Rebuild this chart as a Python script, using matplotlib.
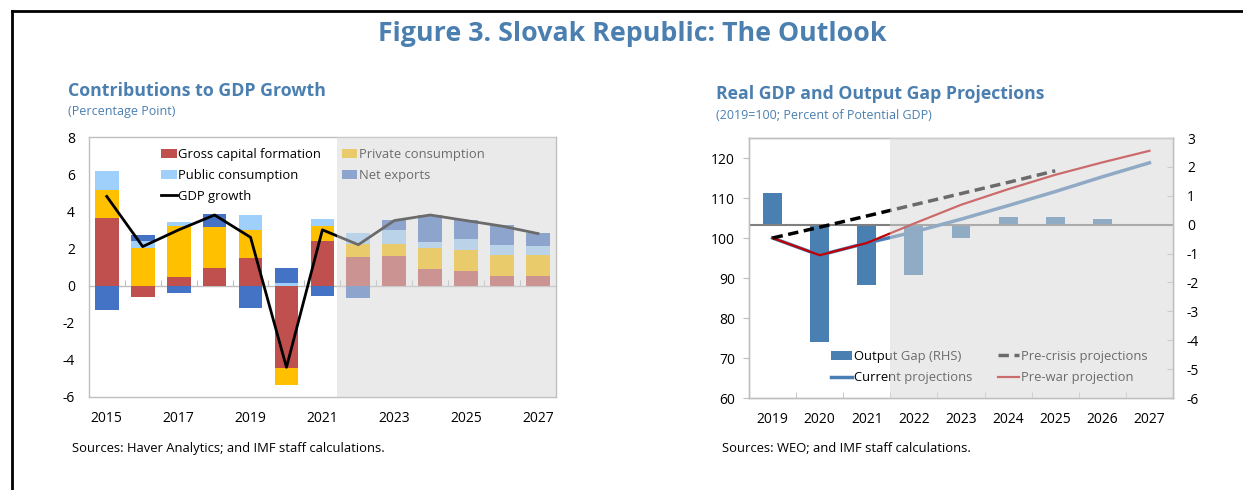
import numpy as np
import matplotlib
matplotlib.use('Agg')
import matplotlib.pyplot as plt
from matplotlib.lines import Line2D
from matplotlib.patches import Patch

plt.rcParams['font.family'] = ['Open Sans', 'DejaVu Sans']
plt.rcParams['axes.unicode_minus'] = False

# ---------------- data: left panel ----------------
years_left = ['2015', '2016', '2017', '2018', '2019', '2020', '2021',
              '2022', '2023', '2024', '2025', '2026', '2027']
gross_capital = [3.65, -0.63, 0.45, 0.95, 1.50, -4.45, 2.40, 1.55, 1.60, 0.90, 0.80, 0.50, 0.50]
private_cons = [1.50, 2.05, 2.75, 2.20, 1.50, -0.90, 0.80, 0.70, 0.65, 1.15, 1.10, 1.13, 1.12]
public_cons = [1.00, 0.35, 0.20, 0.00, 0.80, 0.15, 0.37, 0.60, 0.75, 0.30, 0.62, 0.58, 0.52]
net_exports = [-1.30, 0.30, -0.40, 0.70, -1.20, 0.80, -0.55, -0.65, 0.54, 1.46, 1.02, 1.04, 0.68]
gdp_growth = [4.8, 2.1, 3.0, 3.8, 2.6, -4.4, 3.0, 2.2, 3.5, 3.8, 3.5, 3.2, 2.8]
left_yticks = [-6, -4, -2, 0, 2, 4, 6, 8]

# ---------------- data: right panel ----------------
years_right = ['2019', '2020', '2021', '2022', '2023', '2024', '2025', '2026', '2027']
output_gap = [1.1, -4.05, -2.1, -1.75, -0.45, 0.27, 0.27, 0.18, 0.0]
current_proj = [100.0, 95.7, 98.75, 101.5, 104.7, 108.1, 111.6, 115.3, 118.8]
prewar_proj = [100.0, 95.7, 98.75, 103.6, 108.3, 112.2, 115.8, 118.9, 121.8]
precrisis_proj = [100.0, 102.7, 105.5, 108.3, 111.1, 113.9, 116.8, np.nan, np.nan]
right_lticks = [60, 70, 80, 90, 100, 110, 120]
right_rticks = [-6, -5, -4, -3, -2, -1, 0, 1, 2, 3]

# ---------------- style ----------------
TITLE_BLUE = '#4a7fb0'
SPINE = '#bfbfbf'
SHADE = '#d7d7d7'
W, H = 1243, 490
LEG_FS = 9.4


def fx(px):
    return px / W


def fy(py):
    return 1 - py / H


fig = plt.figure(figsize=(W / 100, H / 100), dpi=100)

# ================= LEFT PANEL =================
ax1 = fig.add_axes([fx(88.8), fy(397), (556 - 88.8) / W, 260 / H])
x = np.arange(len(years_left))
series = [gross_capital, private_cons, public_cons, net_exports]
colors = ['#c0504d', '#ffc000', '#9fd0fb', '#4472c4']
names = ['Gross capital formation', 'Private consumption', 'Public consumption', 'Net exports']
pos_base = np.zeros(len(x))
neg_base = np.zeros(len(x))
bar_handles = []
for vals, c, lab in zip(series, colors, names):
    v = np.array(vals, dtype=float)
    base = np.where(v >= 0, pos_base, neg_base)
    b = ax1.bar(x, v, bottom=base, width=0.66, color=c, label=lab, zorder=2, linewidth=0)
    bar_handles.append(b)
    pos_base += np.where(v > 0, v, 0)
    neg_base += np.where(v < 0, v, 0)
gdp_line, = ax1.plot(x, gdp_growth, color='black', lw=2, zorder=3, label='GDP growth')

ax1.set_xlim(-0.5, len(x) - 0.5)
ax1.set_ylim(-6, 8)
ax1.set_yticks(left_yticks)
ax1.set_yticklabels([str(t) for t in left_yticks])
ax1.set_xticks(x[::2])
ax1.set_xticklabels(years_left[::2])
ax1.tick_params(axis='both', length=0, labelsize=10, colors='black')
ax1.tick_params(axis='y', pad=10)
ax1.tick_params(axis='x', pad=10)
for s in ax1.spines.values():
    s.set_color(SPINE)
    s.set_linewidth(1)

# zero axis with boundary ticks
sec = ax1.secondary_xaxis(6 / 14)
sec.set_xticks(np.arange(len(x) - 1) + 0.5)
sec.tick_params(axis='x', direction='in', length=4, color=SPINE, labelbottom=False, labeltop=False)
for s in sec.spines.values():
    s.set_color(SPINE)
    s.set_linewidth(1)

ax1.axvspan(6.4, len(x) - 0.5, facecolor=SHADE, alpha=0.5, lw=0, zorder=10)

h = [bar_handles[0], bar_handles[2], gdp_line, bar_handles[1], bar_handles[3]]
l = [names[0], names[2], 'GDP growth', names[1], names[3]]
leg1 = ax1.legend(h, l, ncol=2, loc='upper left', bbox_to_anchor=(fx(161), fy(148)),
                  bbox_transform=fig.transFigure, frameon=False, fontsize=LEG_FS,
                  handlelength=1.2, handletextpad=0.1, columnspacing=1.6,
                  labelspacing=0.6, borderpad=0, borderaxespad=0)
leg1.set_zorder(5)

# ================= RIGHT PANEL =================
axL = fig.add_axes([fx(749), fy(398), (1173 - 749) / W, 260 / H])
axR = axL.twinx()
axL.set_zorder(axR.get_zorder() + 1)
axL.patch.set_visible(False)

xr = np.arange(len(years_right))
gap_color = '#4a7fb1'
gap_bars = axR.bar(xr, output_gap, width=0.4, color=gap_color, zorder=2, linewidth=0)
axR.axhline(0, color='#808080', lw=1.5, zorder=3)

cur_line, = axL.plot(xr, current_proj, color='#4a7db4', lw=2.5, zorder=3)
war_line, = axL.plot(xr, prewar_proj, color='#c00000', lw=1.6, zorder=4)
cri_line, = axL.plot(xr, precrisis_proj, color='black', lw=2.5, zorder=4,
                     linestyle=(0, (3, 1.6)))

axL.set_xlim(-0.5, len(xr) - 0.5)
axL.set_ylim(60, 125)
axL.set_yticks(right_lticks)
axL.set_yticklabels([str(t) for t in right_lticks])
axR.set_ylim(-6, 3)
axR.set_yticks(right_rticks)
axR.set_yticklabels([str(t) for t in right_rticks])
axL.set_xticks(xr)
axL.set_xticklabels(years_right)
axL.set_xticks(np.arange(len(xr) - 1) + 0.5, minor=True)
axL.tick_params(axis='x', which='major', length=0, pad=10, labelsize=10, colors='black')
axL.tick_params(axis='x', which='minor', direction='in', length=4, color=SPINE)
axL.tick_params(axis='y', direction='out', length=4, color=SPINE, pad=6,
                labelsize=10, labelcolor='black')
axR.tick_params(axis='y', direction='in', length=4, color=SPINE, pad=10,
                labelsize=10, labelcolor='black')
for a in (axL, axR):
    for s in a.spines.values():
        s.set_color(SPINE)
        s.set_linewidth(1)

axL.axvspan(2.5, len(xr) - 0.5, facecolor=SHADE, alpha=0.5, lw=0, zorder=10)

gap_handle = Patch(facecolor=gap_color)
leg2 = axL.legend([gap_handle, cur_line, cri_line, war_line],
                  ['Output Gap (RHS)', 'Current projections',
                   'Pre-crisis projections', 'Pre-war projection'],
                  ncol=2, loc='upper left', bbox_to_anchor=(fx(831), fy(350)),
                  bbox_transform=fig.transFigure, frameon=False, fontsize=LEG_FS,
                  handlelength=1.6, handletextpad=0.15, columnspacing=2.0,
                  labelspacing=0.62, borderpad=0, borderaxespad=0)
leg2.set_zorder(5)

# ================= TEXT =================
fig.text(0.509, fy(34), 'Figure 3. Slovak Republic: The Outlook', ha='center', va='center',
         fontsize=19.3, fontweight='bold', color=TITLE_BLUE)
fig.text(fx(68), fy(91), 'Contributions to GDP Growth', ha='left', va='center',
         fontsize=12.8, fontweight='bold', color=TITLE_BLUE)
fig.text(fx(68), fy(112), '(Percentage Point)', ha='left', va='center',
         fontsize=9, color=TITLE_BLUE)
fig.text(fx(716), fy(94), 'Real GDP and Output Gap Projections', ha='left', va='center',
         fontsize=12.7, fontweight='bold', color=TITLE_BLUE)
fig.text(fx(716), fy(115), '(2019=100; Percent of Potential GDP)', ha='left', va='center',
         fontsize=9, color=TITLE_BLUE)
fig.text(fx(72), fy(448), 'Sources: Haver Analytics; and IMF staff calculations.',
         ha='left', va='center', fontsize=9.4, color='black')
fig.text(fx(722), fy(448), 'Sources: WEO; and IMF staff calculations.',
         ha='left', va='center', fontsize=9.4, color='black')

# frame lines
fig.add_artist(Line2D([fx(12), 1.0], [fy(11), fy(11)], color='black', lw=2,
                      transform=fig.transFigure))
fig.add_artist(Line2D([fx(12), fx(12)], [fy(11), 0.0], color='black', lw=2,
                      transform=fig.transFigure))

fig.savefig('out.png', dpi=100)
